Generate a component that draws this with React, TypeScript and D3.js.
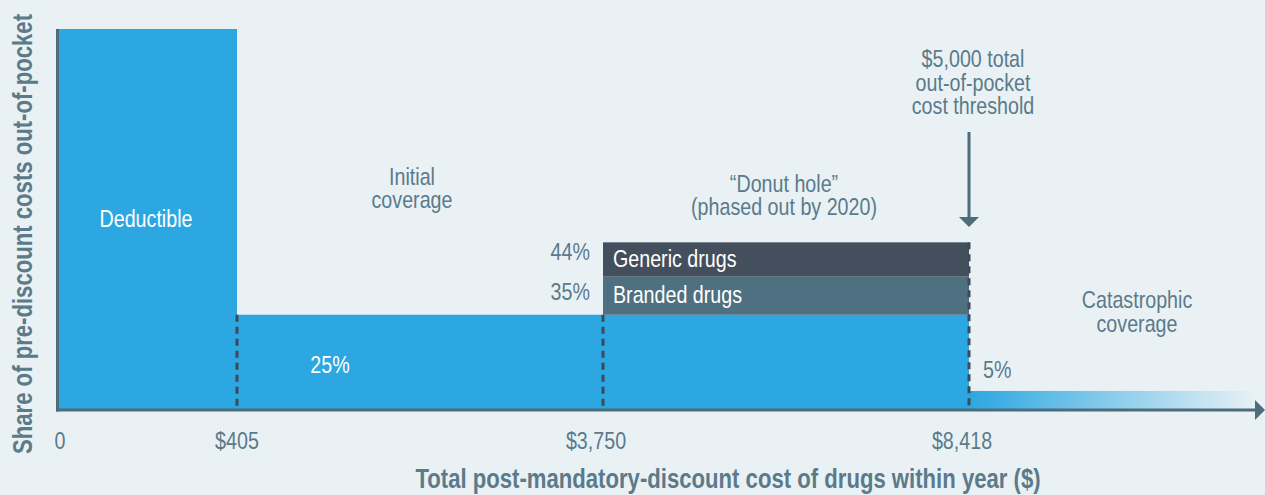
import React from "react";
import * as d3 from "d3";

const W = 1265;
const H = 495;

const phaseNames = ["Deductible", "Initial coverage", "Donut hole", "Catastrophic coverage"];
const phaseStart = [0, 405, 3750, 8418];
const phaseEnd = [405, 3750, 8418, 10500];
const phaseShare = [100, 25, 25, 5];
const donutLayers = ["Branded drugs", "Generic drugs"];
const donutShares = [35, 44];
const tickValues = [0, 405, 3750, 8418];
const tickLabels = ["0", "$405", "$3,750", "$8,418"];

const FONT = "'Liberation Sans', Arial, Helvetica, sans-serif";
const NARROW = 0.82;
const BG = "#e9f1f5";
const BLUE = "#2ca7e1";
const GENERIC = "#434f5d";
const BRANDED = "#4f7080";
const TEXT = "#5b7a8a";
const AXIS = "#4e6d7c";
const DASH = "#3e4a57";

type TProps = {
  x: number;
  y: number;
  anchor?: "start" | "middle" | "end";
  size?: number;
  bold?: boolean;
  fill?: string;
  rotate?: number;
  children: React.ReactNode;
};

function T({ x, y, anchor = "middle", size = 24, bold = false, fill = TEXT, rotate = 0, children }: TProps) {
  return (
    <text
      transform={`translate(${x},${y}) rotate(${rotate}) scale(${NARROW},1)`}
      textAnchor={anchor}
      fontSize={size}
      fontWeight={bold ? "bold" : "normal"}
      fill={fill}
    >
      {children}
    </text>
  );
}

export default function App() {
  const x = d3.scaleLinear().domain([0, 405, 3750, 8418, 10500]).range([57, 237, 603, 969, 1257]);
  const y = d3.scaleLinear().domain([0, 100]).range([410, 29]);
  const y0 = y(0);

  const donutBase = phaseShare[2];
  const layerBottoms = [donutBase, donutShares[0]];
  const xt = x(8418);

  return (
    <svg width={W} height={H} style={{ position: "absolute", left: 0, top: 0 }} fontFamily={FONT}>
      <defs>
        <linearGradient id="cat" x1="0" x2="1" y1="0" y2="0">
          <stop offset="0%" stopColor={BLUE} />
          <stop offset="100%" stopColor={BG} />
        </linearGradient>
      </defs>
      <rect width={W} height={H} fill={BG} />

      {phaseNames.map((n, i) => (
        <rect
          key={n}
          x={x(phaseStart[i])}
          y={y(phaseShare[i])}
          width={x(phaseEnd[i]) - x(phaseStart[i])}
          height={y0 - y(phaseShare[i])}
          fill={i === 3 ? "url(#cat)" : BLUE}
        />
      ))}

      {donutLayers.map((n, i) => (
        <rect
          key={n}
          x={x(phaseStart[2])}
          y={y(donutShares[i])}
          width={x(phaseEnd[2]) - x(phaseStart[2])}
          height={y(layerBottoms[i]) - y(donutShares[i])}
          fill={i === 0 ? BRANDED : GENERIC}
        />
      ))}

      <line x1={x(405)} x2={x(405)} y1={y(phaseShare[1])} y2={y0} stroke={DASH} strokeWidth={3} strokeDasharray="7,5" />
      <line x1={x(3750)} x2={x(3750)} y1={y(phaseShare[2])} y2={y0} stroke={DASH} strokeWidth={3} strokeDasharray="7,5" />
      <line x1={xt} x2={xt} y1={y(donutShares[1])} y2={y0} stroke={DASH} strokeWidth={3} strokeDasharray="7,5" />

      <line x1={57.5} x2={57.5} y1={y(100)} y2={y0 + 1.5} stroke={AXIS} strokeWidth={3} />
      <line x1={56} x2={1256} y1={y0} y2={y0} stroke={AXIS} strokeWidth={3} />
      <path d={`M1255,${y0 - 10}L1265,${y0}L1255,${y0 + 10}Z`} fill={AXIS} />

      {tickValues.map((v, i) => (
        <T key={v} x={i === 0 ? x(v) + 3 : x(v) - (i >= 2 ? 7 : 0)} y={449}>
          {tickLabels[i]}
        </T>
      ))}

      <T x={32} y={234} rotate={-90} size={27} bold>
        Share of pre-discount costs out-of-pocket
      </T>
      <T x={728} y={488} size={27} bold>
        Total post-mandatory-discount cost of drugs within year ($)
      </T>

      <T x={146} y={227} fill="#ffffff">Deductible</T>
      <T x={412} y={185}>Initial</T>
      <T x={412} y={208}>coverage</T>
      <T x={330} y={373} fill="#ffffff">{phaseShare[1]}%</T>
      <T x={784} y={192}>“Donut hole”</T>
      <T x={784} y={215}>(phased out by 2020)</T>
      <T x={590} y={260} anchor="end">{donutShares[1]}%</T>
      <T x={590} y={300} anchor="end">{donutShares[0]}%</T>
      <T x={613} y={267} anchor="start" fill="#ffffff">{donutLayers[1]}</T>
      <T x={613} y={303} anchor="start" fill="#ffffff">{donutLayers[0]}</T>

      <T x={973} y={67}>$5,000 total</T>
      <T x={973} y={90.5}>out-of-pocket</T>
      <T x={973} y={114}>cost threshold</T>
      <line x1={xt} x2={xt} y1={132} y2={219} stroke={AXIS} strokeWidth={3} />
      <path d={`M${xt - 10},217L${xt + 10},217L${xt},227Z`} fill={AXIS} />

      <T x={1137} y={308}>Catastrophic</T>
      <T x={1137} y={332}>coverage</T>
      <T x={983} y={378} anchor="start">{phaseShare[3]}%</T>
    </svg>
  );
}
